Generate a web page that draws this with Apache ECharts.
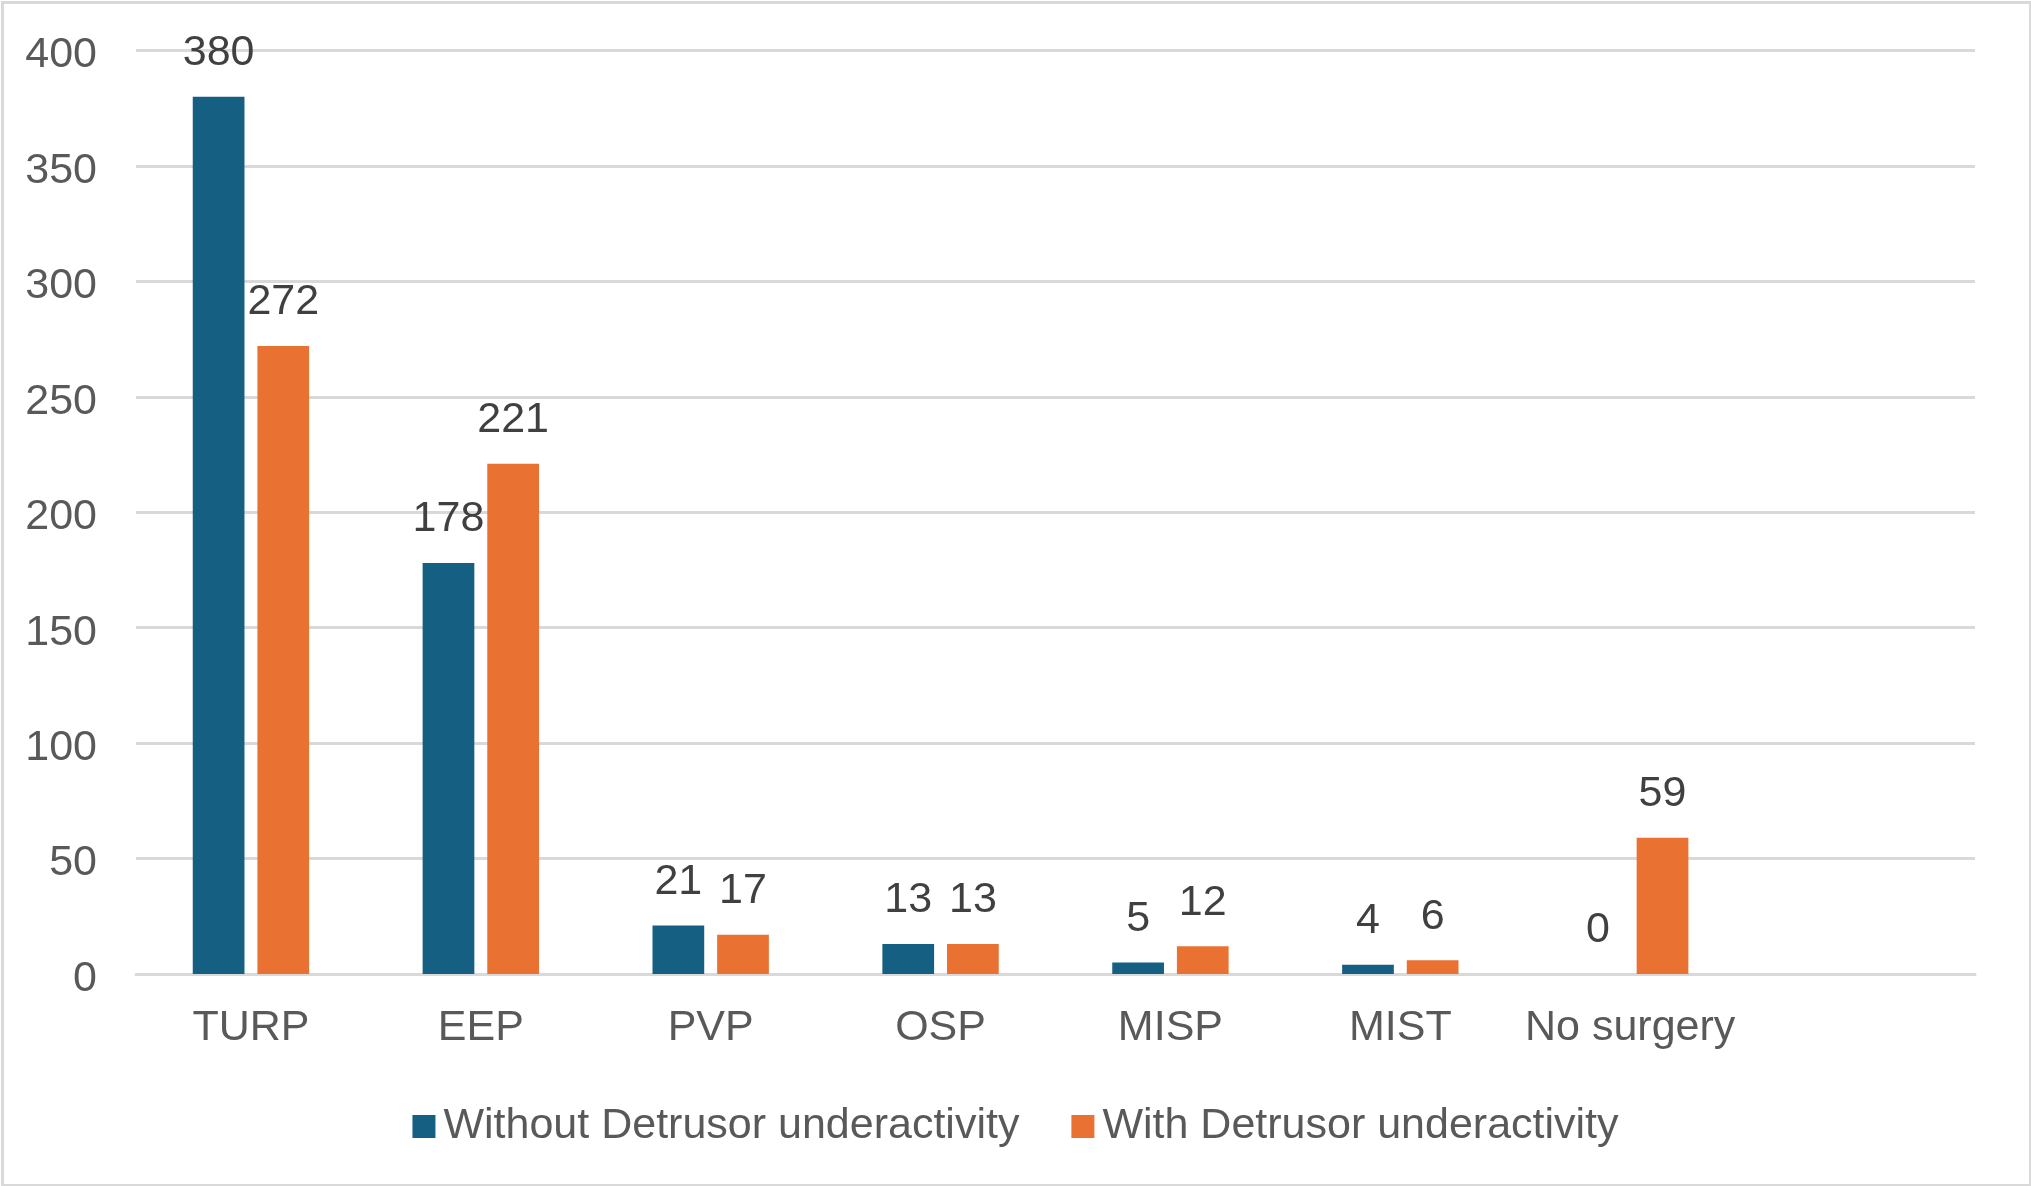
<!DOCTYPE html>
<html>
<head>
<meta charset="utf-8">
<script src="https://cdn.jsdelivr.net/npm/echarts@6/dist/echarts.min.js"></script>
<style>
html,body{margin:0;padding:0;background:#fff;}
#chart{width:2031px;height:1186px;}
</style>
</head>
<body>
<div id="chart"></div>
<script>
const categories = ['TURP', 'EEP', 'PVP', 'OSP', 'MISP', 'MIST', 'No surgery', ''];
const withoutDU = [380, 178, 21, 13, 5, 4, 0, null];
const withDU = [272, 221, 17, 13, 12, 6, 59, null];
const yTicks = [0, 50, 100, 150, 200, 250, 300, 350, 400];
const seriesNames = ['Without Detrusor underactivity', 'With Detrusor underactivity'];

const FONT = '"Liberation Sans", Arial, sans-serif';
const chart = echarts.init(document.getElementById('chart'), null, {renderer: 'canvas'});
const labelStyle = {
  show: true, position: 'top', distance: 22,
  fontFamily: FONT, fontSize: 43, color: '#404040'
};
chart.setOption({
  animation: false,
  backgroundColor: '#ffffff',
  graphic: [{
    type: 'rect', left: 0, top: 0, z: -10, silent: true,
    shape: {x: 1.5, y: 1.5, width: 2028, height: 1183},
    style: {fill: 'none', stroke: '#d9d9d9', lineWidth: 3}
  }],
  grid: {left: 136, right: 56, top: 50.5, bottom: 212, containLabel: false},
  legend: {
    bottom: 33, left: 'center',
    itemWidth: 23, itemHeight: 23, itemGap: 52,
    icon: 'rect',
    textStyle: {fontFamily: FONT, fontSize: 43, color: '#595959', padding: [0, 0, 0, 3]},
    data: seriesNames
  },
  xAxis: {
    type: 'category', data: categories,
    axisLine: {show: true, lineStyle: {color: '#d9d9d9', width: 3}},
    axisTick: {show: false},
    axisLabel: {fontFamily: FONT, fontSize: 43, color: '#595959', margin: 33, interval: 0}
  },
  yAxis: {
    type: 'value', min: yTicks[0], max: yTicks[yTicks.length - 1], interval: 50,
    axisLine: {show: false}, axisTick: {show: false},
    axisLabel: {
      fontFamily: FONT, fontSize: 43, color: '#595959', margin: 39,
      formatter: function (v) { return '{t|' + v + '}'; },
      rich: {t: {fontFamily: FONT, fontSize: 43, color: '#595959', padding: [10, 0, 0, 0]}}
    },
    splitLine: {lineStyle: {color: '#d9d9d9', width: 3}}
  },
  series: [
    {name: seriesNames[0], type: 'bar', data: withoutDU, barWidth: '22.5%', barGap: '25%',
     itemStyle: {color: '#156082'}, label: labelStyle},
    {name: seriesNames[1], type: 'bar', data: withDU, barWidth: '22.5%', barGap: '25%',
     itemStyle: {color: '#E97132'}, label: labelStyle}
  ]
});
</script>
</body>
</html>
